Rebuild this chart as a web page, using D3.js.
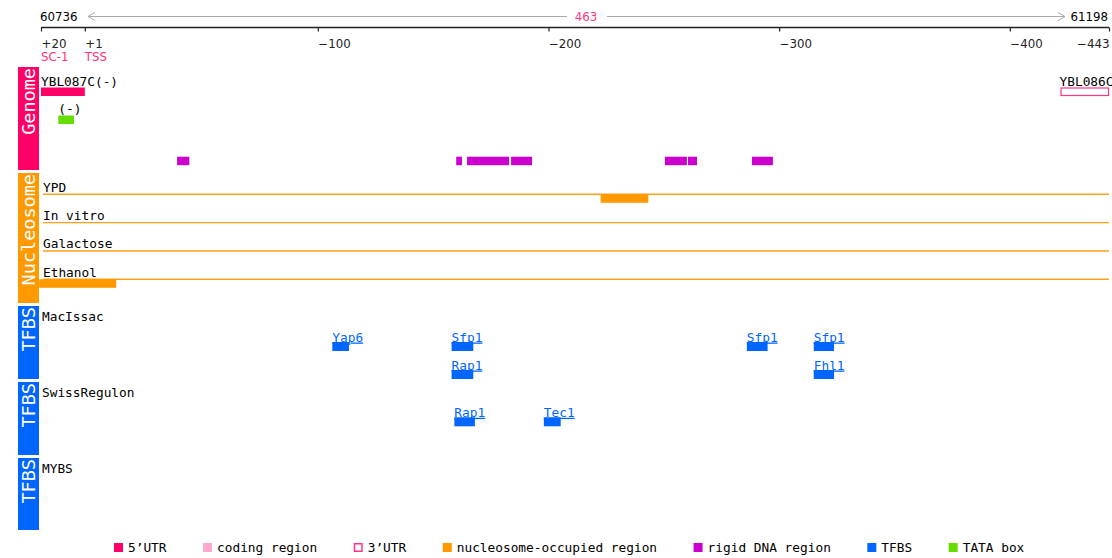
<!DOCTYPE html>
<html lang="en">
<head>
  <meta charset="UTF-8">
  <title>Promoter map YBL087C</title>
  <script src="https://d3js.org/d3.v7.min.js"></script>
  <style>
    body {
      margin: 0;
      background-color: #ffffff;
      overflow: hidden;
    }
    .mono { font-family: "DejaVu Sans Mono", "Liberation Mono", monospace; }
    .sans { font-family: "DejaVu Sans", Verdana, sans-serif; }
  </style>
</head>
<body>
  <script>
    const width = 1112;
    const height = 558;

    // coordinates (bp relative to TSS)
    const startCoord = 60736;
    const endCoord = 61198;
    const regionLength = 463;
    const tickValues = [20, 1, -100, -200, -300, -400, -443];
    const tickLabels = ["+20", "+1", "\u2212100", "\u2212200", "\u2212300", "\u2212400", "\u2212443"];
    const markers = [{ name: "SC-1", pos: 20 }, { name: "TSS", pos: 1 }];

    // genome track
    const utr5 = [{ gene: "YBL087C(-)", start: 20, end: 1 }];
    const utr3 = [{ gene: "YBL086C", start: -422, end: -443 }];
    const tataBoxes = [{ label: "(-)", start: 12.5, end: 5.7 }];
    const rigidStarts = [-39, -160, -164.7, -183.8, -250.5, -260.5, -288.2];
    const rigidEnds = [-44.3, -162.5, -182.9, -192.9, -260, -264.4, -297.3];

    // nucleosome tracks
    const nucleosomeTracks = ["YPD", "In vitro", "Galactose", "Ethanol"];
    const nucleosomes = [
      { track: "YPD", start: -222.6, end: -243.3 },
      { track: "Ethanol", start: 20.8, end: -12.6 }
    ];

    // TFBS tracks
    const tfbsSources = ["MacIssac", "SwissRegulon", "MYBS"];
    const tfbsSites = [
      { source: "MacIssac", name: "Yap6", row: 0, start: -106.3, end: -113.5 },
      { source: "MacIssac", name: "Sfp1", row: 0, start: -158, end: -167.4 },
      { source: "MacIssac", name: "Rap1", row: 1, start: -158, end: -167.4 },
      { source: "MacIssac", name: "Sfp1", row: 0, start: -286, end: -295 },
      { source: "MacIssac", name: "Sfp1", row: 0, start: -315, end: -323.8 },
      { source: "MacIssac", name: "Fhl1", row: 1, start: -315, end: -323.8 },
      { source: "SwissRegulon", name: "Rap1", row: 0, start: -159.2, end: -168.1 },
      { source: "SwissRegulon", name: "Tec1", row: 0, start: -198, end: -205.3 }
    ];

    const legendLabels = ["5\u2019UTR", "coding region", "3\u2019UTR", "nucleosome-occupied region", "rigid DNA region", "TFBS", "TATA box"];
    const legendColors = ["#ff0066", "#ffaacc", "none", "#ff9900", "#cc00cc", "#0066ff", "#66dd00"];

    const pink = "#ff0066", orange = "#ff9900", blue = "#0066ff";

    const svg = d3.select("body").append("svg")
      .attr("width", width)
      .attr("height", height);

    const x = d3.scaleLinear().domain([20, -443]).range([41, 1109]);

    // header: coordinates and length arrow
    const head = svg.append("g").attr("class", "sans").attr("font-size", 11.8);
    head.append("text").attr("x", 40).attr("y", 20.5).text(startCoord);
    head.append("text").attr("x", 1108).attr("y", 20.5).attr("text-anchor", "end").text(endCoord);
    const midX = (x(20) + x(-443)) / 2 + 11;
    head.append("text").attr("x", midX).attr("y", 20.5).attr("text-anchor", "middle")
      .attr("fill", "#ff3377").text(regionLength);
    const arrow = svg.append("g").attr("stroke", "#aaaaaa").attr("fill", "none").attr("stroke-width", 1);
    arrow.append("line").attr("x1", 88).attr("x2", midX - 19).attr("y1", 16.5).attr("y2", 16.5);
    arrow.append("line").attr("x1", midX + 21).attr("x2", 1065).attr("y1", 16.5).attr("y2", 16.5);
    arrow.append("path").attr("d", "M95,12.5L88,16.5L95,20.5");
    arrow.append("path").attr("d", "M1058,12.5L1065,16.5L1058,20.5");

    // axis
    const axis = d3.axisBottom(x)
      .tickValues(tickValues)
      .tickSize(4)
      .tickFormat((d, i) => tickLabels[i]);
    const axisG = svg.append("g").attr("transform", "translate(0,27.5)").call(axis);
    axisG.select(".domain").attr("stroke", "#222").attr("stroke-width", 1.6).attr("d", `M${x(20)},0H${x(-443)}`);
    axisG.selectAll(".tick line").attr("stroke", "#222").attr("stroke-width", 1.2);
    axisG.selectAll(".tick text")
      .attr("font-family", "DejaVu Sans, Verdana, sans-serif")
      .attr("font-size", 11.8)
      .attr("fill", "#222")
      .attr("y", 20.5)
      .attr("dy", 0)
      .attr("text-anchor", (d, i) => i === tickValues.length - 1 ? "end" : "start");

    svg.append("g").attr("class", "sans").attr("font-size", 11.8).attr("fill", "#ff3377")
      .selectAll("text").data(markers).enter().append("text")
      .attr("x", d => x(d.pos)).attr("y", 61).text(d => d.name);

    // section side labels
    const sections = [
      { name: "Genome", color: pink, top: 67, bottom: 170 },
      { name: "Nucleosome", color: orange, top: 173, bottom: 303 },
      { name: "TFBS", color: blue, top: 306, bottom: 379 },
      { name: "TFBS", color: blue, top: 382, bottom: 455 },
      { name: "TFBS", color: blue, top: 458, bottom: 530 }
    ];
    const side = svg.append("g").selectAll("g").data(sections).enter().append("g");
    side.append("rect").attr("x", 18).attr("width", 21)
      .attr("y", d => d.top).attr("height", d => d.bottom - d.top)
      .attr("fill", d => d.color);
    side.append("text")
      .attr("class", "mono")
      .attr("font-size", 18.5)
      .attr("fill", "#fff")
      .attr("text-anchor", "end")
      .attr("transform", d => `translate(35,${d.top + 1}) rotate(-90)`)
      .text(d => d.name);

    const barH = 8.5;
    const mono = svg.append("g").attr("class", "mono").attr("font-size", 12.8);

    // genome track
    mono.selectAll(".utr5").data(utr5).enter().append("rect")
      .attr("x", d => x(d.start)).attr("width", d => x(d.end) - x(d.start))
      .attr("y", 87.5).attr("height", barH).attr("fill", pink);
    mono.selectAll(".utr5t").data(utr5).enter().append("text")
      .attr("x", d => x(d.start)).attr("y", 86).text(d => d.gene);
    mono.selectAll(".utr3").data(utr3).enter().append("rect")
      .attr("x", d => x(d.start) + 0.5).attr("width", d => x(d.end) - x(d.start) - 1)
      .attr("y", 88).attr("height", barH - 1).attr("fill", "none")
      .attr("stroke", "#ff3388").attr("stroke-width", 1.2);
    mono.selectAll(".utr3t").data(utr3).enter().append("text")
      .attr("x", d => x(d.start) - 1).attr("y", 86).text(d => d.gene);
    mono.selectAll(".tata").data(tataBoxes).enter().append("rect")
      .attr("x", d => x(d.start)).attr("width", d => x(d.end) - x(d.start))
      .attr("y", 115.5).attr("height", barH).attr("fill", "#66dd00");
    mono.selectAll(".tatat").data(tataBoxes).enter().append("text")
      .attr("x", d => x(d.start)).attr("y", 113).text(d => d.label);
    mono.selectAll(".rigid").data(rigidStarts).enter().append("rect")
      .attr("x", d => x(d)).attr("width", (d, i) => x(rigidEnds[i]) - x(d))
      .attr("y", 156.7).attr("height", barH).attr("fill", "#cc00cc");

    // nucleosome tracks
    const trackY = d3.scalePoint().domain(nucleosomeTracks).range([194.3, 279.3]);
    mono.selectAll(".nline").data(nucleosomeTracks).enter().append("line")
      .attr("x1", 43).attr("x2", x(-443))
      .attr("y1", d => trackY(d)).attr("y2", d => trackY(d))
      .attr("stroke", "#ff9f1a").attr("stroke-width", 1.4);
    mono.selectAll(".nlab").data(nucleosomeTracks).enter().append("text")
      .attr("x", 43).attr("y", d => trackY(d) - 2.5).text(d => d);
    mono.selectAll(".nuc").data(nucleosomes).enter().append("rect")
      .attr("x", d => x(d.start)).attr("width", d => x(d.end) - x(d.start))
      .attr("y", d => trackY(d.track)).attr("height", barH).attr("fill", orange);

    // TFBS tracks
    const sourceTop = d3.scaleOrdinal().domain(tfbsSources).range([306, 382, 458]);
    mono.selectAll(".slab").data(tfbsSources).enter().append("text")
      .attr("x", 42).attr("y", d => sourceTop(d) + 14.5).text(d => d);
    const siteY = d => sourceTop(d.source) + (d.source === "MacIssac" ? 36 : 35.3) + d.row * 28;
    mono.selectAll(".site").data(tfbsSites).enter().append("rect")
      .attr("x", d => x(d.start)).attr("width", d => x(d.end) - x(d.start))
      .attr("y", siteY).attr("height", barH + 0.5).attr("fill", blue);
    mono.selectAll(".sitet").data(tfbsSites).enter().append("text")
      .attr("x", d => x(d.start)).attr("y", d => siteY(d) - 0.5)
      .attr("fill", blue).attr("text-decoration", "underline")
      .text(d => d.name);

    // legend
    const legend = svg.append("g").attr("class", "mono").attr("font-size", 12.8);
    let lx = 114;
    legendLabels.forEach((label, i) => {
      const g = legend.append("g").attr("transform", `translate(${lx},0)`);
      if (legendColors[i] === "none") {
        g.append("rect").attr("x", 0.75).attr("y", 543.75).attr("width", 7.5).attr("height", 7.5)
          .attr("fill", "#fff").attr("stroke", "#ff3388").attr("stroke-width", 1.5);
      } else {
        g.append("rect").attr("x", 0).attr("y", 543).attr("width", 9).attr("height", 9)
          .attr("fill", legendColors[i]);
      }
      const t = g.append("text").attr("x", 14).attr("y", 552).text(label);
      lx += 14 + t.node().getComputedTextLength() + 36.5;
    });
  </script>
</body>
</html>
